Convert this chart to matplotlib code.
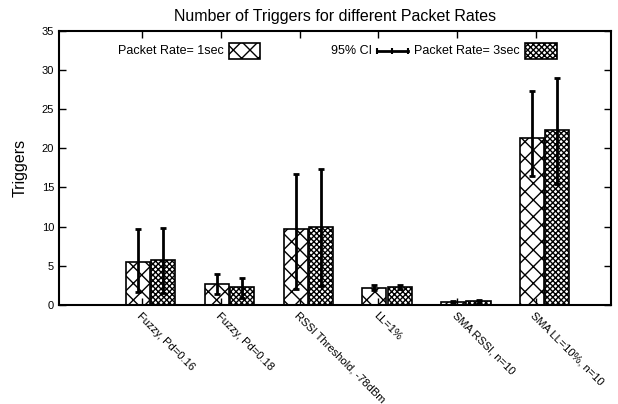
import numpy as np
import matplotlib
matplotlib.use("Agg")
import matplotlib.pyplot as plt
from matplotlib.patches import Rectangle
from matplotlib.lines import Line2D

plt.rcParams['font.family'] = ['Liberation Sans', 'DejaVu Sans']
plt.rcParams['hatch.linewidth'] = 1.0

labels = ["Fuzzy, Pd=0.16", "Fuzzy, Pd=0.18", "RSSI Threshold, -78dBm",
          "LL=1%", "SMA RSSI, n=10", "SMA LL=10%, n=10"]

# mean triggers and 95% CI bounds, packet rate 1 sec
rate1_mean = [5.5, 2.7, 9.7, 2.15, 0.38, 21.3]
rate1_lo = [1.6, 1.4, 2.0, 1.9, 0.2, 16.4]
rate1_hi = [9.7, 3.95, 16.75, 2.5, 0.55, 27.25]

# packet rate 3 sec
rate3_mean = [5.7, 2.3, 9.9, 2.25, 0.45, 22.3]
rate3_lo = [1.5, 0.95, 2.4, 2.0, 0.25, 15.4]
rate3_hi = [9.85, 3.5, 17.35, 2.5, 0.65, 29.0]

fig = plt.figure(figsize=(6.18, 4.04), dpi=100)
ax = fig.add_axes([59/618, 1-305/404, 552/618, 274.3/404])

x = np.arange(len(labels))
w = 0.305
x1 = x - 0.05
x3 = x + 0.27

def err(mean, lo, hi):
    mean = np.array(mean)
    return [mean - np.array(lo), np.array(hi) - mean]

ax.bar(x1, rate1_mean, w, facecolor='white', edgecolor='black', hatch='xx', linewidth=1.2)
ax.bar(x3, rate3_mean, w, facecolor='white', edgecolor='black', hatch='xxxxxx', linewidth=1.2)
ax.errorbar(x1, rate1_mean, yerr=err(rate1_mean, rate1_lo, rate1_hi), fmt='none',
            ecolor='black', elinewidth=2, capsize=2.5, capthick=2)
ax.errorbar(x3, rate3_mean, yerr=err(rate3_mean, rate3_lo, rate3_hi), fmt='none',
            ecolor='black', elinewidth=2, capsize=2.5, capthick=2)

ax.set_xlim(-1.05, 5.95)
ax.set_ylim(0, 35)
ax.set_yticks(range(0, 36, 5))
ax.set_xticks(x)
ax.set_xticklabels(labels, rotation=-45, ha='left', va='top', rotation_mode='anchor',
                   fontsize=8.5)
ax.tick_params(direction='in', top=True, right=True, labelsize=8, length=5, width=1)
ax.tick_params(axis='x', pad=4)
for s in ax.spines.values():
    s.set_linewidth(1.5)

ax.set_ylabel("Triggers", fontsize=11.5, labelpad=10)
ax.set_title("Number of Triggers for different Packet Rates", fontsize=11.5, pad=7)

# key row
tr = ax.transAxes
ax.text(0.299, 0.926, "Packet Rate= 1sec", transform=tr, ha='right', va='center', fontsize=9)
ax.add_patch(Rectangle((0.308, 0.897), 0.056, 0.058, transform=tr, facecolor='white',
                       edgecolor='black', hatch='xx', linewidth=1.2))
ax.text(0.567, 0.926, "95% CI", transform=tr, ha='right', va='center', fontsize=9)
ax.add_line(Line2D([0.576, 0.632], [0.926, 0.926], transform=tr, color='black', lw=2))
ax.add_line(Line2D([0.576, 0.604, 0.632], [0.926] * 3, transform=tr, color='black',
                   lw=0, marker='|', markersize=5, markeredgewidth=1.5))
ax.text(0.835, 0.926, "Packet Rate= 3sec", transform=tr, ha='right', va='center', fontsize=9)
ax.add_patch(Rectangle((0.844, 0.897), 0.058, 0.058, transform=tr, facecolor='white',
                       edgecolor='black', hatch='xxxxxx', linewidth=1.2))

fig.savefig("out.png", dpi=100)
